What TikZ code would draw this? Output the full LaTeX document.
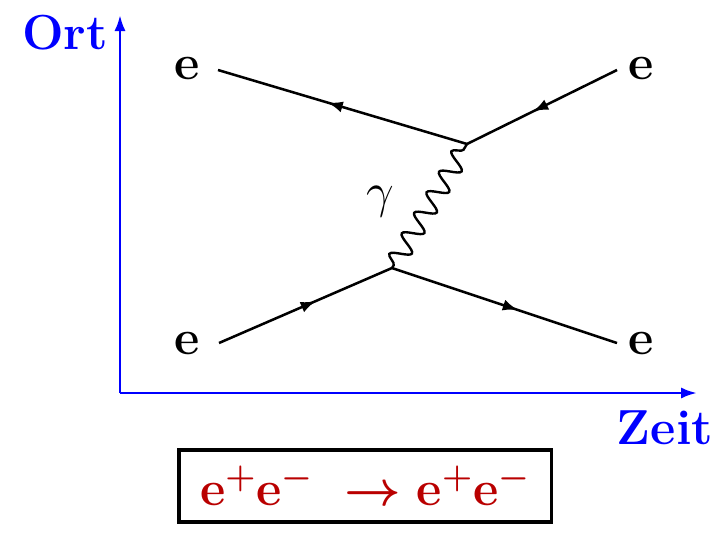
\RequirePackage{fix-cm}
\documentclass[tikz,border=0pt]{standalone}
\usetikzlibrary{arrows.meta,decorations.markings,decorations.pathmorphing}
\definecolor{achse}{RGB}{0,0,255}
\definecolor{dunkelrot}{RGB}{185,0,0}
\tikzset{
	fermion/.style={line width=1.8pt, postaction={decorate},
		decoration={markings, mark=at position 0.56 with {\arrow{Latex[length=0.38cm,width=0.28cm]}}}},
	photon/.style={line width=1.7pt, decorate,
		decoration={snake, segment length=0.6cm, amplitude=0.24cm, pre length=0.08cm, post length=0.08cm}},
	teilchen/.style={font=\fontsize{35}{40}\selectfont\bfseries},
	achsentext/.style={font=\fontsize{35}{40}\selectfont\bfseries, text=achse},
}
\begin{document}
\begin{tikzpicture}[x=0.025cm, y=-0.025cm]
	\useasboundingbox (0,0) rectangle (720,532);
	
	% Achsen
	\coordinate (O) at (120,393);
	\coordinate (Oben) at (120,15);
	\coordinate (Rechts) at (697,393);
	\draw[achse, line width=2pt, -{Latex[length=0.4cm,width=0.28cm]}] (O) -- (Oben);
	\draw[achse, line width=2pt, -{Latex[length=0.4cm,width=0.28cm]}] (O) -- (Rechts);
	\node[achsentext] (ort) at (65,33) {Ort};
	\node[achsentext] (zeit) at (665,428) {Zeit};
	
	% Vertizes und Enden der Linien
	\coordinate (v1) at (392,268);
	\coordinate (v2) at (467,144);
	\coordinate (a1) at (218,70);
	\coordinate (a2) at (617,70);
	\coordinate (a3) at (219,343);
	\coordinate (a4) at (617,343);
	
	\node[teilchen] (e1) at (187,68) {e};
	\node[teilchen] (e2) at (641,68) {e};
	\node[teilchen] (e3) at (187,343) {e};
	\node[teilchen] (e4) at (641,343) {e};
	
	\draw[fermion] (v2) -- (a1);
	\draw[fermion] (a2) -- (v2);
	\draw[fermion] (a3) -- (v1);
	\draw[fermion] (v1) -- (a4);
	\draw[photon] (v1) -- (v2);
	\node[font=\fontsize{35}{40}\selectfont] (gamma) at (380,202) {$\gamma$};
	
	% Reaktion
	\node[draw, line width=2.2pt, minimum width=9.3cm, minimum height=1.8cm, text=dunkelrot,
		font=\fontsize{35}{40}\selectfont\boldmath] (reaktion) at (365,486)
		{$\mathbf{e^+e^-\;\rightarrow e^+e^-}$};
\end{tikzpicture}
\end{document}
